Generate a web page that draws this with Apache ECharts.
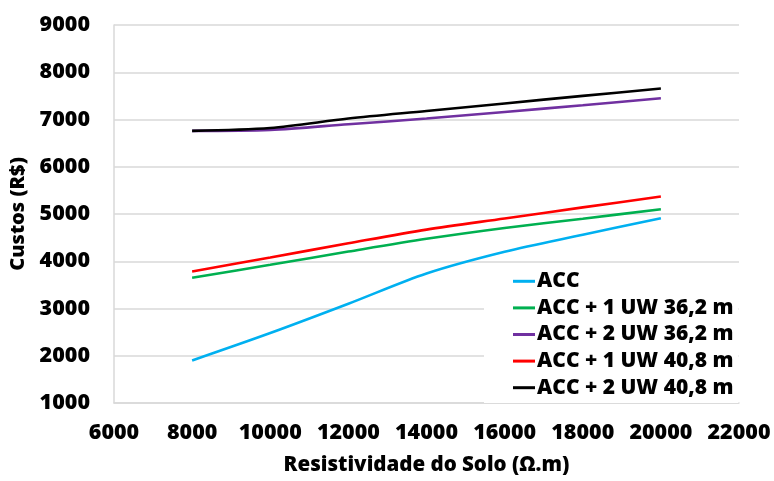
<!DOCTYPE html>
<html>
<head>
<meta charset="utf-8">
<script src="https://cdn.jsdelivr.net/npm/echarts@6/dist/echarts.min.js"></script>
<style>
  html, body { margin: 0; padding: 0; background: #fff; }
  #chart { width: 774px; height: 481px; }
</style>
</head>
<body>
<div id="chart"></div>
<script>
// Resistividade do solo (Ω.m)
const resistividade = [8000, 10000, 12000, 14000, 16000, 18000, 20000];

// Custos (R$) por configuração
const acc        = [1900, 2480, 3100, 3740, 4200, 4560, 4910];
const acc1uw362  = [3650, 3925, 4205, 4475, 4705, 4900, 5100];
const acc2uw362  = [6760, 6780, 6900, 7020, 7160, 7300, 7450];
const acc1uw408  = [3785, 4080, 4380, 4670, 4905, 5140, 5370];
const acc2uw408  = [6760, 6820, 7020, 7180, 7340, 7500, 7655];

// Tick labels
const xTicks = [6000, 8000, 10000, 12000, 14000, 16000, 18000, 20000, 22000];
const yTicks = [1000, 2000, 3000, 4000, 5000, 6000, 7000, 8000, 9000];

const seriesNames = [
  'ACC',
  'ACC + 1 UW 36,2 m',
  'ACC + 2 UW 36,2 m',
  'ACC + 1 UW 40,8 m',
  'ACC + 2 UW 40,8 m'
];
const seriesValues = [acc, acc1uw362, acc2uw362, acc1uw408, acc2uw408];
const seriesColors = ['#00B0F0', '#00B050', '#7030A0', '#FF0000', '#000000'];

const FONT = '"Open Sans", Lato, Roboto, sans-serif';
const WEIGHT = 800;

const chart = echarts.init(document.getElementById('chart'));

const series = seriesNames.map((name, i) => ({
  name: name,
  type: 'line',
  data: resistividade.map((x, j) => [x, seriesValues[i][j]]),
  smooth: 0.3,
  symbol: 'none',
  lineStyle: { color: seriesColors[i], width: 2.6 },
  itemStyle: { color: seriesColors[i] },
  z: 2 + i
}));

chart.setOption({
  animation: false,
  backgroundColor: '#ffffff',
  grid: { left: 114, right: 35, top: 25, bottom: 77 },
  xAxis: {
    type: 'value',
    min: xTicks[0],
    max: xTicks[xTicks.length - 1],
    interval: xTicks[1] - xTicks[0],
    name: 'Resistividade do Solo (Ω.m)',
    nameLocation: 'middle',
    nameGap: 52,
    nameTextStyle: { fontFamily: FONT, fontWeight: WEIGHT, fontSize: 20.5, color: '#000' },
    axisLine: { show: true, lineStyle: { color: '#d9d9d9', width: 1.5 } },
    axisTick: { show: false },
    splitLine: { show: false },
    axisLabel: {
      margin: 19, fontFamily: FONT, fontWeight: WEIGHT, fontSize: 21.5, color: '#000',
      formatter: v => String(v)
    }
  },
  yAxis: {
    type: 'value',
    min: yTicks[0],
    max: yTicks[yTicks.length - 1],
    interval: yTicks[1] - yTicks[0],
    name: 'Custos (R$)',
    nameLocation: 'middle',
    nameGap: 80,
    nameTextStyle: { fontFamily: FONT, fontWeight: WEIGHT, fontSize: 20, color: '#000' },
    axisLine: { show: true, lineStyle: { color: '#d9d9d9', width: 1.5 } },
    axisTick: { show: false },
    splitLine: { show: true, lineStyle: { color: '#d9d9d9', width: 1.5 } },
    axisLabel: {
      margin: 24, fontFamily: FONT, fontWeight: WEIGHT, fontSize: 21.5, color: '#000',
      formatter: v => String(v)
    }
  },
  legend: {
    orient: 'vertical',
    left: 484,
    top: 265,
    backgroundColor: '#ffffff',
    padding: [3, 5, 2, 29],
    itemGap: 0,
    itemWidth: 22,
    itemHeight: 3,
    icon: 'rect',
    data: seriesNames,
    textStyle: {
      fontFamily: FONT, fontWeight: WEIGHT, fontSize: 21, color: '#000',
      lineHeight: 26.6, padding: [0, 0, 0, -3]
    },
    z: 10
  },
  series: series
});
</script>
</body>
</html>
